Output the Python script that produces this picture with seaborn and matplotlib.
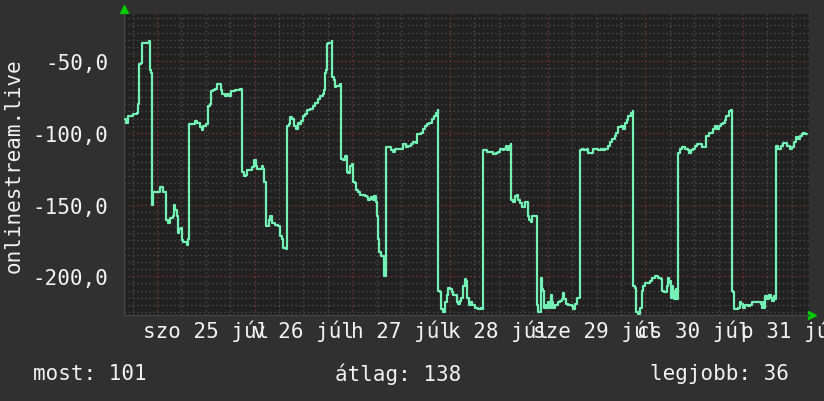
import numpy as np
import pandas as pd
import matplotlib
matplotlib.use("Agg")
import matplotlib.pyplot as plt
import seaborn as sns
from matplotlib.ticker import MultipleLocator, FuncFormatter

# hours since 25 Jul 00:00, rank (plotted negative)
hours = [
    -7.9, -7.6, -7.0, -5.8, -5.0, -4.6, -4.3, -4.0, -3.7, -2.1,
    -1.9, -1.7, -1.5, -1.3, -0.9, 0.3, 0.7, 1.4, 1.6, 2.0,
    2.2, 2.8, 3.2, 3.9, 4.2, 4.4, 4.8, 5.1, 5.5, 5.8,
    6.1, 6.5, 7.3, 7.7, 7.9, 8.5, 9.3, 9.9, 10.6, 11.0,
    11.4, 12.0, 12.5, 12.6, 13.0, 13.3, 13.8, 14.3, 14.7, 15.3,
    15.7, 16.1, 16.7, 17.3, 17.8, 18.1, 19.2, 20.4, 21.0, 21.4,
    21.9, 22.2, 22.8, 23.3, 23.8, 24.3, 24.7, 25.3, 25.9, 26.1,
    26.4, 26.7, 27.2, 27.5, 27.8, 28.2, 29.0, 29.8, 30.2, 30.6,
    31.0, 31.8, 32.0, 32.4, 32.8, 33.2, 33.7, 34.1, 34.6, 35.1,
    35.5, 35.9, 36.4, 36.8, 37.6, 38.4, 38.8, 39.5, 40.0, 40.9,
    41.1, 41.3, 41.5, 41.7, 42.1, 42.9, 43.1, 43.5, 43.7, 44.1,
    45.0, 45.2, 45.8, 46.2, 46.6, 47.0, 47.4, 47.8, 48.2, 48.6,
    49.0, 49.5, 49.9, 50.7, 51.1, 51.5, 51.9, 52.3, 52.7, 53.1,
    53.4, 53.7, 54.0, 54.2, 54.5, 55.0, 55.4, 55.8, 56.2, 56.8,
    57.6, 57.9, 58.5, 59.3, 60.1, 60.5, 61.2, 61.7, 62.3, 63.0,
    63.6, 64.0, 64.5, 64.8, 65.3, 65.8, 66.4, 66.9, 67.5, 68.1,
    68.5, 69.0, 69.1, 69.5, 69.8, 70.3, 70.8, 71.2, 71.6, 72.0,
    72.4, 72.8, 73.6, 74.0, 74.4, 74.8, 75.3, 75.7, 75.9, 76.2,
    76.7, 77.1, 77.5, 78.1, 78.5, 78.9, 79.5, 80.0, 80.2, 81.0,
    81.8, 82.6, 83.3, 83.9, 84.4, 84.9, 85.2, 85.7, 86.1, 86.5,
    86.9, 87.0, 87.5, 87.9, 88.4, 88.8, 89.3, 89.8, 90.4, 91.1,
    91.4, 91.9, 92.2, 93.3, 93.4, 93.7, 94.3, 94.7, 94.9, 95.2,
    95.5, 95.7, 96.1, 96.5, 96.8, 97.1, 97.4, 97.8, 98.6, 99.0,
    99.4, 99.8, 100.1, 100.6, 101.0, 101.9, 102.3, 102.7, 103.1, 103.9,
    104.5, 105.0, 105.6, 106.0, 107.2, 107.8, 108.4, 109.1, 109.6, 110.1,
    110.7, 111.3, 111.9, 112.5, 112.9, 113.3, 114.0, 114.6, 115.0, 115.4,
    115.8, 116.4, 116.9, 117.0, 117.4, 117.7, 118.2, 118.7, 119.1, 119.5,
    120.0, 121.1, 121.7, 122.3, 123.2, 123.8, 124.1, 124.6, 125.2, 125.6,
    125.9, 126.1, 126.3, 126.6, 126.8, 127.1, 127.4, 127.7, 127.9, 128.1,
    128.5, 129.1, 129.7, 130.4, 130.7, 131.2, 131.8, 132.3, 132.8, 133.4,
    133.8, 135.0, 135.6, 136.1, 136.7, 137.2, 137.7, 138.1, 138.6, 139.1,
    139.5, 139.9, 140.5, 141.0, 141.2, 141.6, 141.8, 142.4, 142.8, 143.2,
    143.6, 144.0, 144.4, 145.1, 145.7, 146.1, 147.7, 148.4, 148.7, 149.0,
    149.2, 149.4, 149.8, 150.3, 150.8, 151.2, 151.5, 151.8, 152.1, 152.6,
    153.3, 153.9, 154.3, 154.9, 155.5, 156.1, 156.6, 157.1, 157.5, 158.0,
    158.4, 158.8, 159.2, 159.6,
]
rank = [
    90, 93, 88, 87, 86, 80, 52, 51, 37, 37,
    36, 56, 58, 150, 141, 141, 138, 138, 141, 141,
    161, 163, 159, 158, 150, 154, 158, 170, 167, 166,
    175, 176, 178, 174, 94, 94, 92, 93, 96, 98,
    95, 94, 93, 81, 80, 71, 70, 69, 66, 66,
    70, 73, 74, 73, 74, 71, 70, 69, 127, 130,
    129, 126, 126, 124, 119, 123, 125, 125, 123, 125,
    134, 165, 165, 161, 158, 163, 164, 165, 172, 174,
    180, 181, 95, 94, 89, 90, 95, 97, 93, 94,
    92, 88, 87, 84, 83, 81, 79, 76, 74, 73,
    70, 58, 56, 38, 37, 36, 61, 63, 68, 67,
    66, 118, 119, 116, 127, 128, 123, 122, 134, 135,
    140, 141, 143, 143, 144, 145, 147, 146, 145, 147,
    144, 148, 158, 174, 183, 186, 186, 200, 110, 110,
    112, 113, 111, 111, 111, 108, 110, 109, 108, 106,
    107, 101, 101, 100, 97, 95, 94, 93, 90, 88,
    86, 84, 210, 211, 223, 225, 218, 213, 208, 209,
    211, 213, 218, 219, 217, 215, 207, 202, 203, 215,
    220, 218, 220, 222, 222, 223, 222, 223, 112, 113,
    113, 115, 114, 113, 111, 112, 111, 109, 112, 109,
    108, 147, 148, 144, 143, 147, 149, 152, 148, 158,
    161, 162, 158, 159, 220, 225, 201, 209, 210, 222,
    220, 222, 218, 222, 213, 218, 222, 220, 218, 217,
    216, 212, 216, 219, 220, 221, 223, 219, 215, 112,
    111, 112, 111, 114, 111, 111, 112, 111, 112, 111,
    109, 106, 104, 102, 100, 96, 95, 97, 93, 91,
    88, 86, 85, 207, 208, 225, 226, 222, 210, 207,
    205, 203, 201, 200, 201, 202, 210, 211, 207, 201,
    205, 203, 215, 207, 210, 216, 209, 216, 204, 114,
    111, 110, 111, 112, 114, 112, 111, 109, 108, 108,
    110, 102, 100, 100, 97, 95, 97, 95, 94, 93,
    91, 88, 85, 84, 210, 211, 223, 223, 222, 218,
    219, 222, 220, 221, 220, 218, 218, 219, 222, 218,
    222, 214, 216, 213, 215, 217, 214, 216, 109, 111,
    109, 107, 107, 109, 111, 110, 106, 103, 104, 102,
    101, 100, 101, 101,
]
assert len(hours) == len(rank)

day_names = ["szo", "v", "h", "k", "sze", "cs", "p"]
day_nums = [25, 26, 27, 28, 29, 30, 31]
month = "júl"

legend_labels = ["most", "átlag", "legjobb"]
legend_values = [101, 138, 36]

df = pd.DataFrame({"ora": hours, "ertek": -np.array(rank)})

bg = "#303030"
txt = "#f2f2f2"

sns.set_style("dark")
plt.rcParams["font.family"] = ["DejaVu Sans Mono"]

fig = plt.figure(figsize=(8.24, 4.02), dpi=100, facecolor=bg)
ax = fig.add_axes([124 / 824, 86 / 402, 685 / 824, 301 / 402])
ax.set_facecolor("#212121")

sns.lineplot(data=df, x="ora", y="ertek", ax=ax, color="#74f2b6",
             linewidth=1.6, drawstyle="steps-post", zorder=3)

ax.set_xlim(-8.1, 160.2)
ax.set_ylim(-227, -17)

ax.xaxis.set_major_locator(MultipleLocator(24))
ax.xaxis.set_minor_locator(MultipleLocator(6))
ax.yaxis.set_major_locator(MultipleLocator(50))
ax.yaxis.set_minor_locator(MultipleLocator(5))


def xlab(v, pos):
    h = int(round(v))
    if h % 24 == 12:
        i = (h - 12) // 24
        if 0 <= i < len(day_names):
            return f"{day_names[i]} {day_nums[i]} {month}"
    return ""


ax.xaxis.set_major_formatter(FuncFormatter(lambda v, p: ""))
ax.xaxis.set_minor_formatter(FuncFormatter(xlab))
ax.yaxis.set_major_formatter(FuncFormatter(lambda v, p: f"{v:.1f}".replace(".", ",")))

dots = (0, (1, 2))
ax.grid(which="minor", color="#4c4c4c", linestyle=dots, linewidth=1)
ax.grid(which="major", color="#7d3434", linestyle=dots, linewidth=1)
ax.set_axisbelow(True)

ax.tick_params(axis="both", which="both", length=0, colors=txt, labelsize=15)
ax.tick_params(axis="y", pad=11.5)
ax.tick_params(axis="x", which="minor", pad=3)
ax.set_xlabel("")
ax.set_ylabel("")

for s in ["top", "right"]:
    ax.spines[s].set_visible(False)
for s in ["left", "bottom"]:
    ax.spines[s].set_color("#444444")
    ax.spines[s].set_linewidth(1)

# axis arrows
ax.plot([0], [1.017], marker="^", color="#00cc00", markersize=6,
        transform=ax.transAxes, clip_on=False)
ax.plot([1.004], [0], marker=">", color="#00cc00", markersize=6,
        transform=ax.transAxes, clip_on=False)

fig.text(14 / 824, 1 - 166 / 402, "onlinestream.live", rotation=90,
         ha="center", va="center", color=txt, fontsize=15)

xs = [33 / 824, 335 / 824, 650 / 824]
for x, lab, val in zip(xs, legend_labels, legend_values):
    fig.text(x, 1 - 374 / 402, f"{lab}: {val}", ha="left", va="center",
             color=txt, fontsize=15)

fig.savefig("out.png", dpi=100, facecolor=bg)
